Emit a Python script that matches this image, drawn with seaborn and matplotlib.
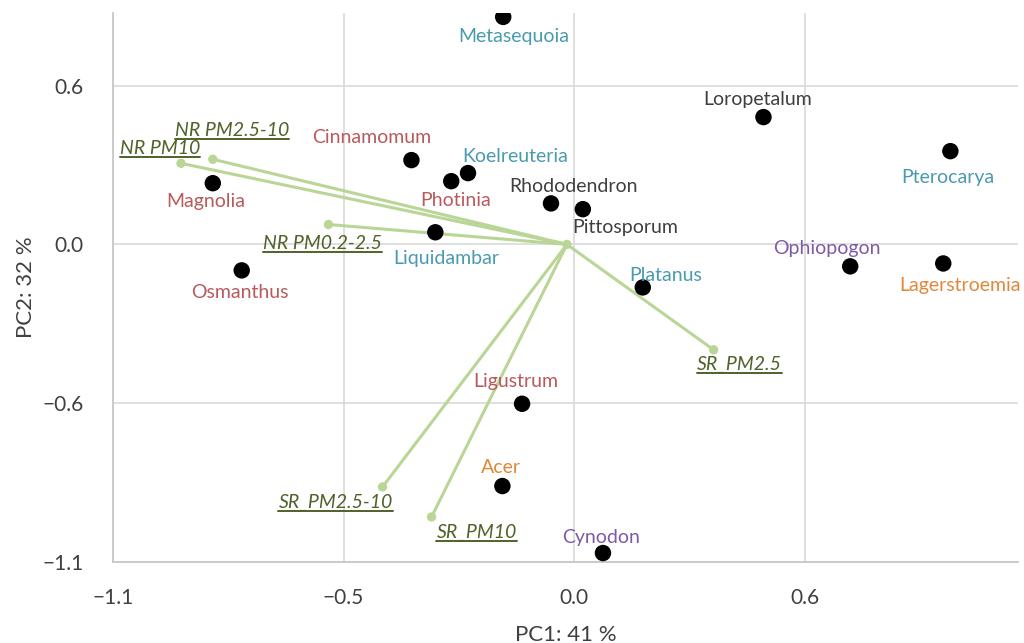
import numpy as np
import pandas as pd
import matplotlib
matplotlib.use("Agg")
import matplotlib.pyplot as plt
from matplotlib.lines import Line2D
from matplotlib.transforms import IdentityTransform
import seaborn as sns

# species scores (PC1, PC2) and their label groups
species = ["Metasequoia", "Loropetalum", "Pterocarya", "Cinnamomum", "Koelreuteria",
           "Photinia", "Magnolia", "Rhododendron", "Pittosporum", "Liquidambar",
           "Osmanthus", "Ophiopogon", "Lagerstroemia", "Platanus", "Ligustrum",
           "Acer", "Cynodon"]
pc1 = [-0.169, 0.452, 0.898, -0.388, -0.253, -0.293, -0.862, -0.055, 0.021, -0.331,
       -0.793, 0.659, 0.881, 0.164, -0.124, -0.171, 0.069]
pc2 = [0.788, 0.441, 0.323, 0.292, 0.247, 0.219, 0.212, 0.142, 0.122, 0.042,
       -0.090, -0.076, -0.066, -0.149, -0.552, -0.837, -1.069]
group = ["blue", "grey", "blue", "red", "blue",
         "red", "red", "grey", "grey", "blue",
         "red", "purple", "orange", "blue", "red",
         "orange", "purple"]

# loading vectors
variables = ["NR PM10", "NR PM2.5-10", "NR PM0.2-2.5", "SR_PM2.5", "SR_PM2.5-10", "SR_PM10"]
load1 = [-0.938, -0.862, -0.586, 0.333, -0.457, -0.340]
load2 = [0.281, 0.295, 0.069, -0.365, -0.840, -0.944]
origin = (-0.017, 0.0)

x_ticks = [-1.1, -0.55, 0.0, 0.55]
x_tick_labels = ["\u22121.1", "\u22120.5", "0.0", "0.6"]
y_ticks = [-1.1, -0.55, 0.0, 0.55]
y_tick_labels = ["\u22121.1", "\u22120.6", "0.0", "0.6"]

palette = {"red": "#b85a5c", "blue": "#4a9ab0", "grey": "#3f3f3f",
           "purple": "#7e5aa6", "orange": "#e0883a"}
arrow_color = "#b9d696"
arrow_text = "#4f6228"

# label offsets in pixels (dx, dy upward)
sp_off = {"Metasequoia": (11, -20), "Loropetalum": (-6, 18), "Pterocarya": (-3, -26),
          "Cinnamomum": (-40, 23), "Koelreuteria": (47, 17), "Photinia": (4, -19),
          "Magnolia": (-7, -18), "Rhododendron": (23, 17), "Pittosporum": (42, -18),
          "Liquidambar": (11, -26), "Osmanthus": (-2, -22), "Ophiopogon": (-23, 18),
          "Lagerstroemia": (17, -22), "Platanus": (23, 12), "Ligustrum": (-6, 22),
          "Acer": (-1, 19), "Cynodon": (-2, 16)}
var_off = {"NR PM10": (-21, 15), "NR PM2.5-10": (19, 29), "NR PM0.2-2.5": (-6, -19),
           "SR_PM2.5": (26, -15), "SR_PM2.5-10": (-47, -15), "SR_PM10": (45, -15)}

df = pd.DataFrame({"species": species, "PC1": pc1, "PC2": pc2, "group": group})
ld = pd.DataFrame({"var": variables, "PC1": load1, "PC2": load2})

sns.set_theme(style="white")
plt.rcParams["font.family"] = ["Lato", "DejaVu Sans"]

fig = plt.figure(figsize=(10.24, 6.43), dpi=100)
ax = fig.add_axes([0.1104, 0.126, 0.884, 0.854])

for _, r in ld.iterrows():
    ax.plot([origin[0], r["PC1"]], [origin[1], r["PC2"]], color=arrow_color, lw=2.2,
            solid_capstyle="round", zorder=2)
sns.scatterplot(data=ld, x="PC1", y="PC2", color=arrow_color, s=45, edgecolor="none",
                ax=ax, zorder=3)
ax.scatter([origin[0]], [origin[1]], color=arrow_color, s=45, edgecolor="none", zorder=3)
sns.scatterplot(data=df, x="PC1", y="PC2", color="black", s=140, edgecolor="none",
                ax=ax, zorder=4, legend=False)

for _, r in df.iterrows():
    dx, dy = sp_off[r["species"]]
    ax.annotate(r["species"], (r["PC1"], r["PC2"]), xytext=(dx, dy),
                textcoords="offset pixels", ha="center", va="center",
                fontsize=14, color=palette[r["group"]], zorder=5)

var_texts = []
for _, r in ld.iterrows():
    dx, dy = var_off[r["var"]]
    t = ax.annotate(r["var"], (r["PC1"], r["PC2"]), xytext=(dx, dy),
                    textcoords="offset pixels", ha="center", va="center",
                    fontsize=14, color=arrow_text, style="italic", zorder=5)
    var_texts.append(t)

ax.set_xlim(-1.1, 1.06)
ax.set_ylim(-1.1, 0.802)
ax.set_xticks(x_ticks)
ax.set_xticklabels(x_tick_labels)
ax.set_yticks(y_ticks)
ax.set_yticklabels(y_tick_labels)
ax.tick_params(axis="both", length=0, labelsize=15, labelcolor="#404040")
ax.tick_params(axis="x", pad=19)
ax.tick_params(axis="y", pad=21)
ax.grid(True, color="#d9d9d9", lw=1.2)
ax.set_axisbelow(True)
for s in ["top", "right"]:
    ax.spines[s].set_visible(False)
for s in ["left", "bottom"]:
    ax.spines[s].set_color("#c8c8c8")
    ax.spines[s].set_linewidth(1.3)
ax.set_xlabel("PC1: 41 %", fontsize=16, color="#404040", labelpad=12)
ax.set_ylabel("PC2: 32 %", fontsize=16, color="#404040", labelpad=5)

# underline the loading labels
fig.canvas.draw()
renderer = fig.canvas.get_renderer()
for t in var_texts:
    bb = t.get_window_extent(renderer)
    fig.add_artist(Line2D([bb.x0, bb.x1], [bb.y0, bb.y0], color=arrow_text,
                          lw=1.4, transform=IdentityTransform()))

fig.savefig("out.png", dpi=100)
